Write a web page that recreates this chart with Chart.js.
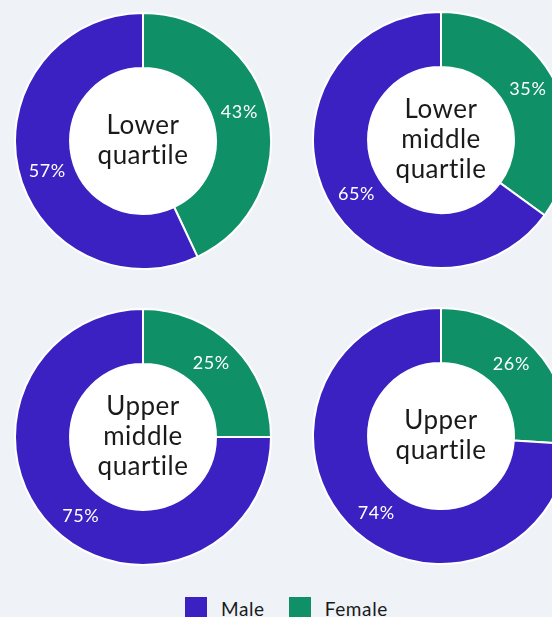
<!DOCTYPE html>
<html>
<head>
<meta charset="utf-8">
<script src="https://cdn.jsdelivr.net/npm/chart.js@4/dist/chart.umd.min.js"></script>
<style>
  html, body { margin:0; padding:0; width:552px; height:617px; overflow:hidden; background:#eff3f7; font-family: Lato, sans-serif; }
  .cell { position:absolute; width:258px; height:258px; }
  .cell canvas { width:258px !important; height:258px !important; }
  #legend { position:absolute; left:185px; top:597px; display:flex; align-items:flex-start; font-size:19px; letter-spacing:0.6px; color:#1a1a1a; font-variant-ligatures:none; }
  .item { display:flex; align-items:flex-start; margin-right:24px; }
  .box { width:22px; height:22px; margin-right:14px; }
  .lbl { line-height:22px; margin-top:1px; }
</style>
</head>
<body>
<div class="cell" style="left:14px;top:12px"><canvas id="c0"></canvas></div>
<div class="cell" style="left:312px;top:11px"><canvas id="c1"></canvas></div>
<div class="cell" style="left:14px;top:308px"><canvas id="c2"></canvas></div>
<div class="cell" style="left:312px;top:307px"><canvas id="c3"></canvas></div>
<div id="legend"></div>
<script>
const categories = ['Lower quartile', 'Lower middle quartile', 'Upper middle quartile', 'Upper quartile'];
const centerLabels = [['Lower', 'quartile'], ['Lower', 'middle', 'quartile'], ['Upper', 'middle', 'quartile'], ['Upper', 'quartile']];
const seriesNames = ['Female', 'Male'];
const femaleValues = [43, 35, 25, 26];
const maleValues = [57, 65, 75, 74];
const legendOrder = ['Male', 'Female'];
const colors = { Female: '#109066', Male: '#3b21c1' };

const FONT = 'Lato, sans-serif';

const holePlugin = {
  id: 'whiteHole',
  beforeDatasetsDraw(chart) {
    const arc = chart.getDatasetMeta(0).data[0];
    const ctx = chart.ctx;
    ctx.save();
    ctx.fillStyle = '#ffffff';
    ctx.beginPath();
    ctx.arc(arc.x, arc.y, arc.innerRadius + 1, 0, Math.PI * 2);
    ctx.fill();
    ctx.restore();
  }
};

const labelPlugin = {
  id: 'sliceLabels',
  afterDatasetsDraw(chart) {
    const ctx = chart.ctx;
    const meta = chart.getDatasetMeta(0);
    const ds = chart.data.datasets[0];
    const frac = 0.475;
    ctx.save();
    ctx.fillStyle = '#ffffff';
    ctx.font = '18px ' + FONT;
    if ('letterSpacing' in ctx) ctx.letterSpacing = '0.6px';
    ctx.textAlign = 'center';
    ctx.textBaseline = 'middle';
    meta.data.forEach((arc, i) => {
      const p = arc.getProps(['x', 'y', 'startAngle', 'endAngle', 'innerRadius', 'outerRadius']);
      const a = p.startAngle + (p.endAngle - p.startAngle) * frac;
      const r = (p.innerRadius + p.outerRadius) / 2;
      ctx.fillText(ds.data[i] + '%', p.x + Math.cos(a) * r, p.y + Math.sin(a) * r);
    });
    ctx.restore();
  }
};

const centerPlugin = {
  id: 'centerText',
  afterDraw(chart) {
    const lines = chart.options.plugins.centerText.lines;
    const ctx = chart.ctx;
    const arc = chart.getDatasetMeta(0).data[0];
    const cx = arc.x, cy = arc.y;
    const lh = 30;
    ctx.save();
    ctx.fillStyle = '#1a1a1a';
    ctx.font = '26px ' + FONT;
    if ('letterSpacing' in ctx) ctx.letterSpacing = '0.5px';
    ctx.textAlign = 'center';
    ctx.textBaseline = 'middle';
    const start = cy - (lines.length - 1) * lh / 2;
    lines.forEach((l, i) => ctx.fillText(l, cx, start + i * lh));
    ctx.restore();
  }
};

categories.forEach((cat, k) => {
  new Chart(document.getElementById('c' + k), {
    type: 'doughnut',
    data: {
      labels: seriesNames,
      datasets: [{
        label: cat,
        data: [femaleValues[k], maleValues[k]],
        backgroundColor: seriesNames.map(n => colors[n]),
        borderColor: '#ffffff',
        borderWidth: 2,
        hoverOffset: 0
      }]
    },
    options: {
      responsive: false,
      animation: false,
      cutout: '57%',
      layout: { padding: 0 },
      events: [],
      plugins: {
        legend: { display: false },
        tooltip: { enabled: false },
        centerText: { lines: centerLabels[k] }
      }
    },
    plugins: [holePlugin, labelPlugin, centerPlugin]
  });
});

const legend = document.getElementById('legend');
legendOrder.forEach(n => {
  const item = document.createElement('div');
  item.className = 'item';
  const box = document.createElement('div');
  box.className = 'box';
  box.style.background = colors[n];
  const lbl = document.createElement('div');
  lbl.className = 'lbl';
  lbl.textContent = n;
  item.appendChild(box); item.appendChild(lbl);
  legend.appendChild(item);
});
</script>
</body>
</html>
